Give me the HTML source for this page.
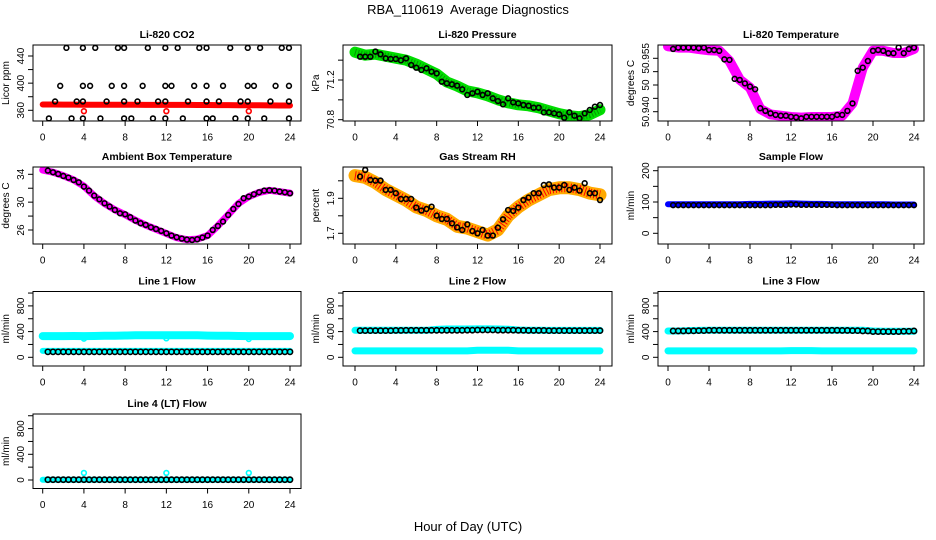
<!DOCTYPE html>
<html><head><meta charset="utf-8"><style>
html,body{margin:0;padding:0;background:#fff;}
svg{display:block;font-family:"Liberation Sans",sans-serif;}
</style></head><body>
<svg id="chart" width="936" height="540" viewBox="0 0 936 540" xmlns="http://www.w3.org/2000/svg">
<rect width="936" height="540" fill="#fff"/>
<text x="468" y="14" font-size="13" text-anchor="middle" style="white-space:pre">RBA_110619  Average Diagnostics</text>
<text x="468" y="531" font-size="13" text-anchor="middle">Hour of Day (UTC)</text>
</svg>
<script>
const halfHours=[0.5,1,1.5,2,2.5,3,3.5,4,4.5,5,5.5,6,6.5,7,7.5,8,8.5,9,9.5,10,10.5,11,11.5,12,12.5,13,13.5,14,14.5,15,15.5,16,16.5,17,17.5,18,18.5,19,19.5,20,20.5,21,21.5,22,22.5,23,23.5,24];
const hours=[0,1,2,3,4,5,6,7,8,9,10,11,12,13,14,15,16,17,18,19,20,21,22,23,24];
const xTicks=[0,4,8,12,16,20,24];

// CO2
const co2Band=[368.5,368.5,368.4,368.4,368.3,368.3,368.2,368.2,368.1,368.1,368,368,368,367.9,367.9,367.8,367.8,367.7,367.6,367.5,367.4,367.3,367.2,367.1,367];
const co2Hours=[0.6,2.8,3.9,5.6,7.9,8.6,10.7,11.9,13.6,15.9,16.5,18.7,19.9,21.5,23.9,
1.7,3.9,4.6,6.7,7.9,9.7,11.9,12.5,14.7,15.9,17.5,19.9,20.5,22.6,23.9,
1.2,3.3,3.9,6.2,7.9,9.2,11.2,11.9,14.1,15.9,17.1,19.2,19.9,22.1,23.9,
2.3,3.9,5.1,7.3,7.9,10.2,11.9,13.1,15.2,15.9,18.2,19.9,21.1,23.2,23.9];
const co2Vals=[348,348,348,348,348,348,348,348,348,348,348,348,348,348,348,
396,396,396,396,396,396,396,396,396,396,396,396,396,396,396,
373,373,373,373,373,373,373,373,373,373,373,373,373,373,373,
452,452,452,452,452,452,452,452,452,452,452,452,452,452,452];
const co2OutHours=[4,12,20];
const co2OutVals=[358.7,358.7,358.7];

// Pressure
const presBand=[71.48,71.45,71.46,71.44,71.42,71.40,71.36,71.31,71.26,71.18,71.14,71.09,71.07,71.04,71.00,70.97,70.95,70.94,70.92,70.89,70.86,70.84,70.83,70.85,70.90];
const presVals=[71.435,71.435,71.435,71.486,71.459,71.418,71.412,71.412,71.398,71.418,71.351,71.324,71.301,71.318,71.284,71.267,71.183,71.166,71.156,71.143,71.106,71.049,71.066,71.082,71.049,71.066,71.015,70.988,70.955,71.015,70.975,70.965,70.948,70.941,70.921,70.921,70.874,70.874,70.864,70.854,70.82,70.874,70.84,70.814,70.864,70.898,70.931,70.948];

// Li-820 Temperature
const tempBand=[50.9645,50.964,50.964,50.9635,50.963,50.9628,50.959,50.952,50.949,50.941,50.939,50.9385,50.938,50.9378,50.938,50.938,50.938,50.9385,50.9431,50.9565,50.9628,50.9628,50.962,50.962,50.9635];
const tempVals=[50.9635,50.964,50.964,50.964,50.964,50.9638,50.964,50.9631,50.9631,50.9628,50.9596,50.9594,50.9523,50.9519,50.9506,50.9494,50.9484,50.9413,50.9403,50.9394,50.9388,50.9385,50.9385,50.9381,50.9379,50.9375,50.9381,50.9381,50.9381,50.9381,50.9381,50.9381,50.9388,50.9388,50.9403,50.9431,50.9553,50.9565,50.959,50.9628,50.9631,50.9628,50.9619,50.9619,50.964,50.9619,50.9635,50.964];

// Ambient
const ambBand=[34.6,34.3,33.8,33.2,32.3,30.9,29.8,28.9,28.2,27.4,26.7,26.1,25.5,24.9,24.6,24.7,25.2,26.6,28.2,29.8,30.8,31.4,31.7,31.5,31.3];
const ambVals=[34.53,34.29,34.05,33.76,33.52,33.19,32.85,32.23,31.66,30.94,30.41,29.84,29.36,28.88,28.40,28.26,27.83,27.35,26.97,26.73,26.39,26.15,25.87,25.53,25.20,24.96,24.77,24.62,24.57,24.67,24.91,25.20,26.01,26.58,27.21,28.16,29.02,29.74,30.56,30.79,31.13,31.42,31.66,31.70,31.66,31.51,31.42,31.27];

// RH
const rhBand=[2.03,2.02,1.99,1.95,1.92,1.89,1.85,1.83,1.80,1.78,1.74,1.73,1.71,1.69,1.72,1.80,1.85,1.89,1.92,1.95,1.96,1.96,1.95,1.93,1.92];
const rhVals=[2.024,2.062,2.005,2.001,2.001,1.948,1.948,1.929,1.896,1.896,1.896,1.847,1.830,1.839,1.852,1.801,1.782,1.782,1.757,1.734,1.719,1.751,1.713,1.700,1.719,1.687,1.687,1.732,1.780,1.833,1.828,1.847,1.890,1.904,1.929,1.929,1.976,1.980,1.961,1.961,1.976,1.948,1.961,1.944,1.986,1.929,1.929,1.890];

// Sample flow
const sfBand=[93,93,93,93,93,93,93,93,94,94,95,95,96,95,94,94,93,93,93,93,93,93,92,92,92];
const sfVals=[90,90,90,90,90,90,90,90,90,90,90,90,90,90,90,90,90,90,90,90,91,91,91,92,92,91,91,91,91,91,91,91,90,90,90,90,90,90,90,90,90,90,90,90,90,90,90,90];

// Line flows
const l1Upper=[330,330,330,332,330,332,334,336,340,342,342,344,344,344,344,342,338,336,334,332,330,330,330,330,330];
const l1Lower=[100,100,100,100,100,100,100,100,100,100,100,100,100,100,100,100,100,100,100,100,100,100,100,100,100];
const l1Black=[85,85,85,85,85,85,85,85,85,85,85,85,85,85,85,85,85,85,85,85,85,85,85,85,85];
const l1DipHours=[4,12,20];
const l1DipVals=[290,295,285];
const l2Upper=[420,420,420,420,420,420,420,420,435,440,440,440,442,442,440,438,425,420,420,418,418,418,418,418,418];
const l2Lower=[100,100,100,100,100,100,100,100,100,100,100,100,110,110,110,110,100,100,100,100,100,100,100,100,100];
const l2Black=[415,415,415,415,418,420,420,420,420,420,420,422,425,425,422,422,420,418,418,415,415,415,415,415,415];
const l3Upper=[410,410,415,418,420,420,420,420,420,420,420,420,420,420,420,420,420,420,420,420,410,405,405,405,405];
const l3Lower=[100,100,100,100,100,100,100,100,100,100,100,100,105,105,105,100,100,100,100,100,100,100,100,100,100];
const l3Black=[410,410,412,415,420,420,420,420,420,420,420,420,420,420,420,420,420,418,415,410,400,400,400,405,410];
const l4Band=[5,5,5,5,5,5,5,5,5,5,5,5,5,5,5,5,5,5,5,5,5,5,5,5,5];
const l4Black=[5,5,5,5,5,5,5,5,5,5,5,5,5,5,5,5,5,5,5,5,5,5,5,5,5];
const l4OutHours=[4,12,20];
const l4OutVals=[110,110,110];

const NS="http://www.w3.org/2000/svg";
const svg=document.getElementById('chart');
function el(tag,attrs,parent){const e=document.createElementNS(NS,tag);for(const k in attrs)e.setAttribute(k,attrs[k]);(parent||svg).appendChild(e);return e;}

const cols=[{x0:33,x1:301,a0:42.7,a1:290},{x0:343,x1:612,a0:355,a1:600},{x0:658,x1:924,a0:668,a1:914}];
const rows=[{y0:45,y1:121},{y0:167,y1:244},{y0:291.5,y1:366},{y0:414,y1:488.5}];

function panel(cfg){
  const c=cols[cfg.col],r=rows[cfg.row];
  const g=el('g',{});
  
  
  const xs=t=>c.a0+(c.a1-c.a0)*t/24;
  const ys=v=>cfg.p1+(v-cfg.v1)*(cfg.p2-cfg.p1)/(cfg.v2-cfg.v1);
  const t=el('text',{x:(c.x0+c.x1)/2,y:r.y0-7,'font-size':10.5,'font-weight':'bold','text-anchor':'middle'},g);
  t.textContent=cfg.title;
  
  
  const xa=el('g',{},g);
  
  
  el('line',{x1:xs(0),x2:xs(24),y1:r.y1,y2:r.y1,stroke:'#000'},xa);
  xTicks.forEach(v=>{
    el('line',{x1:xs(v),x2:xs(v),y1:r.y1,y2:r.y1+5,stroke:'#000'},xa);
    const tx=el('text',{x:xs(v),y:r.y1+19.5,'font-size':10,'text-anchor':'middle'},xa);
    tx.textContent=v;
    
    
  });
  const ya=el('g',{},g);
  
  
  const tv=cfg.ticks;
  el('line',{x1:c.x0,x2:c.x0,y1:ys(tv[0]),y2:ys(tv[tv.length-1]),stroke:'#000'},ya);
  tv.forEach((v,i)=>{
    const y=ys(v);
    el('line',{x1:c.x0-5,x2:c.x0,y1:y,y2:y,stroke:'#000'},ya);
    const lab=cfg.labels[i];
    if(lab!==''){
      const tx=el('text',{x:c.x0-9,y:y,'font-size':10,'text-anchor':'middle',transform:`rotate(-90 ${c.x0-9} ${y})`},ya);
      tx.textContent=lab;
      
      
    }
  });
  const yl=el('text',{x:c.x0-24,y:(r.y0+r.y1)/2,'font-size':10,'text-anchor':'middle',transform:`rotate(-90 ${c.x0-24} ${(r.y0+r.y1)/2})`},g);
  yl.textContent=cfg.ylab;
  
  
  const cid='clip'+cfg.col+cfg.row;
  const cp=el('clipPath',{id:cid},g);el('rect',{x:c.x0,y:r.y0,width:c.x1-c.x0,height:r.y1-r.y0},cp);
  const pg=el('g',{'clip-path':`url(#${cid})`},g);
  
  
  (cfg.bands||[]).forEach(b=>{
    const pts=b.x.map((h,i)=>xs(h).toFixed(1)+','+ys(b.y[i]).toFixed(1)).join(' ');
    const pl=el('polyline',{points:pts,fill:'none',stroke:b.color,'stroke-width':b.w,'stroke-linecap':'round','stroke-linejoin':'round'},pg);
    
    
    if(b.dash){
      const pd=el('polyline',{points:pts,fill:'none',stroke:b.dash,'stroke-width':b.w-4,'stroke-dasharray':'1 2','stroke-linejoin':'round'},pg);
      
      
    }
  });
  (cfg.points||[]).forEach(p=>{
    p.x.forEach((h,i)=>{
      const ci=el('circle',{cx:xs(h),cy:ys(p.y[i]),r:p.r||2.4,fill:'none',stroke:p.color,'stroke-width':1.6},pg);
      
      
    });
  });
  const box=el('rect',{x:c.x0,y:r.y0,width:c.x1-c.x0,height:r.y1-r.y0,fill:'none',stroke:'#000'},g);
  
  
}

const flowTicks=[0,200,400,600,800,1000],flowLabels=['0','','400','','800',''];
panel({name:'co2-panel',col:0,row:0,title:'Li-820 CO2',ylab:'Licor ppm',v1:440,p1:56,v2:360,p2:110.3,
  ticks:[360,380,400,420,440],labels:['360','','400','','440'],
  bands:[{x:hours,y:co2Band,color:'#ff0000',w:6}],
  points:[{x:co2OutHours,y:co2OutVals,color:'#ff0000'},{x:co2Hours,y:co2Vals,color:'#000'}]});
panel({name:'pressure-panel',col:1,row:0,title:'Li-820 Pressure',ylab:'kPa',v1:71.2,p1:80,v2:70.8,p2:119.7,
  ticks:[70.8,71.0,71.2,71.4],labels:['70.8','','71.2',''],
  bands:[{x:hours,y:presBand,color:'#00dd00',w:11,dash:'#009900'}],
  points:[{x:halfHours,y:presVals,color:'#000'}]});
panel({name:'li820-temperature-panel',col:2,row:0,title:'Li-820 Temperature',ylab:'degrees C',v1:50.940,p1:111.7,v2:50.960,p2:58.3,
  ticks:[50.940,50.945,50.950,50.955,50.960],labels:['50.940','','50','','50.955'],
  bands:[{x:hours,y:tempBand,color:'#ff00ff',w:10}],
  points:[{x:halfHours,y:tempVals,color:'#000'}]});
panel({name:'ambient-temperature-panel',col:0,row:1,title:'Ambient Box Temperature',ylab:'degrees C',v1:34,p1:174.3,v2:26,p2:230,
  ticks:[26,28,30,32,34],labels:['26','','30','','34'],
  bands:[{x:hours,y:ambBand,color:'#ff00ff',w:7}],
  points:[{x:halfHours,y:ambVals,color:'#000'}]});
panel({name:'rh-panel',col:1,row:1,title:'Gas Stream RH',ylab:'percent',v1:1.9,p1:198.3,v2:1.7,p2:233.3,
  ticks:[1.7,1.8,1.9,2.0],labels:['1.7','','1.9',''],
  bands:[{x:hours,y:rhBand,color:'#ffaa00',w:13,dash:'#ff0000'}],
  points:[{x:halfHours,y:rhVals,color:'#000'}]});
panel({name:'sample-flow-panel',col:2,row:1,title:'Sample Flow',ylab:'ml/min',v1:200,p1:170.7,v2:0,p2:233.3,
  ticks:[0,50,100,150,200],labels:['0','','100','','200'],
  bands:[{x:hours,y:sfBand,color:'#0000ff',w:6}],
  points:[{x:halfHours,y:sfVals,color:'#000'}]});
panel({name:'line1-flow-panel',col:0,row:2,title:'Line 1 Flow',ylab:'ml/min',v1:0,p1:357.3,v2:400,p2:331.6,
  ticks:flowTicks,labels:flowLabels,
  bands:[{x:hours,y:l1Upper,color:'#00ffff',w:8},{x:hours,y:l1Lower,color:'#00ffff',w:6}],
  points:[{x:l1DipHours,y:l1DipVals,color:'#00ffff'},{x:hours.slice(0,24).map(h=>h+0.5),y:l1Black.slice(0,24),color:'#000',r:2.6},{x:hours.slice(0,24).map(h=>h+1),y:l1Black.slice(1),color:'#000',r:2.6}]});
panel({name:'line2-flow-panel',col:1,row:2,title:'Line 2 Flow',ylab:'ml/min',v1:0,p1:357.3,v2:400,p2:331.6,
  ticks:flowTicks,labels:flowLabels,
  bands:[{x:hours,y:l2Upper,color:'#00ffff',w:7},{x:hours,y:l2Lower,color:'#00ffff',w:7}],
  points:[{x:hours.slice(0,24).map(h=>h+0.5),y:l2Black.slice(0,24),color:'#000',r:2.6},{x:hours.slice(0,24).map(h=>h+1),y:l2Black.slice(1),color:'#000',r:2.6}]});
panel({name:'line3-flow-panel',col:2,row:2,title:'Line 3 Flow',ylab:'ml/min',v1:0,p1:357.3,v2:400,p2:331.6,
  ticks:flowTicks,labels:flowLabels,
  bands:[{x:hours,y:l3Upper,color:'#00ffff',w:7},{x:hours,y:l3Lower,color:'#00ffff',w:7}],
  points:[{x:hours.slice(0,24).map(h=>h+0.5),y:l3Black.slice(0,24),color:'#000',r:2.6},{x:hours.slice(0,24).map(h=>h+1),y:l3Black.slice(1),color:'#000',r:2.6}]});
panel({name:'line4-flow-panel',col:0,row:3,title:'Line 4 (LT) Flow',ylab:'ml/min',v1:0,p1:480,v2:400,p2:454.3,
  ticks:flowTicks,labels:flowLabels,
  bands:[{x:hours,y:l4Band,color:'#00ffff',w:6}],
  points:[{x:l4OutHours,y:l4OutVals,color:'#00ffff'},{x:hours.slice(0,24).map(h=>h+0.5),y:l4Black.slice(0,24),color:'#000',r:2.6},{x:hours.slice(0,24).map(h=>h+1),y:l4Black.slice(1),color:'#000',r:2.6}]});
</script>
</body></html>
